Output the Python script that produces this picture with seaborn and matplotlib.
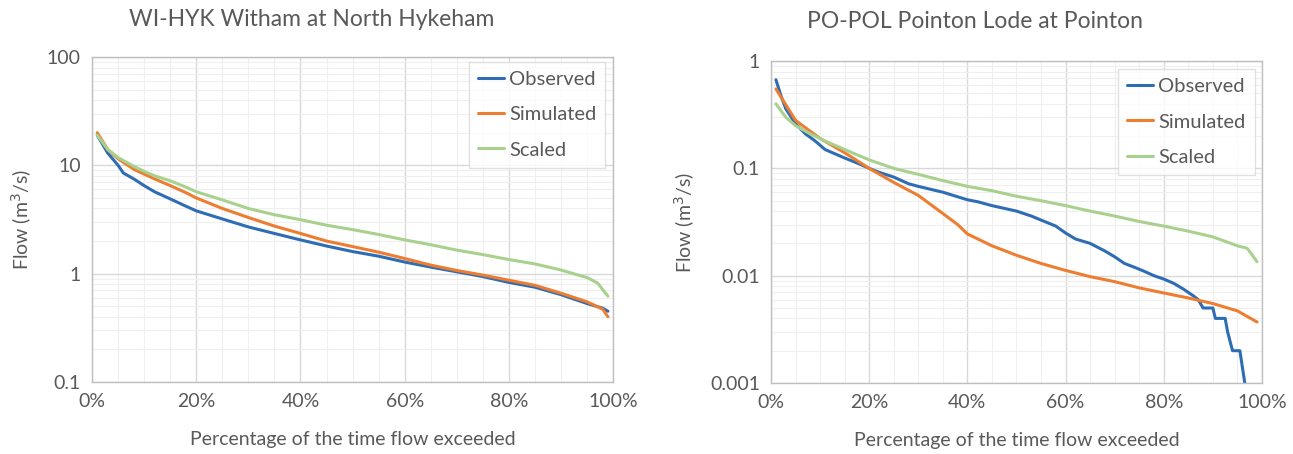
import numpy as np
import pandas as pd
import matplotlib
matplotlib.use("Agg")
import matplotlib.pyplot as plt
import matplotlib.ticker as mticker
import seaborn as sns

# ---- data (x = % of time flow exceeded, y = m3/s) ----
wi_obs_x = [1, 3, 5, 6, 8, 10, 12, 15, 18, 20, 25, 30, 35, 40, 45, 50, 55, 60,
            65, 70, 75, 80, 85, 90, 95, 98, 99]
wi_obs_y = [19, 13, 10, 8.5, 7.5, 6.5, 5.7, 4.9, 4.2, 3.8, 3.2, 2.7, 2.35, 2.05,
            1.8, 1.6, 1.45, 1.28, 1.15, 1.04, 0.94, 0.83, 0.75, 0.64, 0.53, 0.48, 0.45]

wi_sim_x = [1, 3, 5, 8, 10, 12, 15, 18, 20, 25, 30, 35, 40, 45, 50, 55, 60,
            65, 70, 75, 80, 85, 90, 95, 98, 99]
wi_sim_y = [20, 14, 11.5, 9.2, 8.3, 7.5, 6.5, 5.6, 5.0, 4.0, 3.3, 2.75, 2.35,
            2.0, 1.78, 1.58, 1.38, 1.2, 1.07, 0.97, 0.87, 0.78, 0.66, 0.55, 0.47, 0.40]

wi_scl_x = [1, 3, 5, 8, 10, 12, 15, 18, 20, 25, 30, 35, 40, 45, 50, 55, 60,
            65, 70, 75, 80, 85, 90, 95, 97, 99]
wi_scl_y = [19, 14, 11.8, 9.8, 8.8, 8.0, 7.2, 6.3, 5.7, 4.8, 4.0, 3.5, 3.15,
            2.8, 2.55, 2.3, 2.05, 1.85, 1.65, 1.5, 1.35, 1.23, 1.08, 0.92, 0.82, 0.62]

po_obs_x = [1, 2, 3, 5, 7, 9, 11, 15, 18, 20, 22, 25, 28, 30, 35, 40, 42, 45,
            50, 53, 55, 58, 60, 62, 65, 68, 70, 72, 74, 76, 78, 80, 82, 84, 86,
            87, 88, 90, 90.5, 92.5, 93, 94, 95.5, 96.5]
po_obs_y = [0.67, 0.48, 0.36, 0.26, 0.21, 0.18, 0.15, 0.125, 0.11, 0.1, 0.092,
            0.083, 0.072, 0.068, 0.06, 0.051, 0.049, 0.045, 0.04, 0.036, 0.033,
            0.029, 0.025, 0.022, 0.02, 0.017, 0.015, 0.013, 0.012, 0.011, 0.01,
            0.0093, 0.0085, 0.0075, 0.0065, 0.006, 0.005, 0.005, 0.004, 0.004,
            0.003, 0.002, 0.002, 0.001]

po_sim_x = [1, 5, 10, 15, 20, 25, 30, 35, 38, 40, 45, 50, 55, 60, 65, 70, 75,
            80, 85, 90, 95, 99]
po_sim_y = [0.55, 0.28, 0.19, 0.14, 0.1, 0.074, 0.056, 0.038, 0.03, 0.0245,
            0.019, 0.0155, 0.013, 0.0112, 0.0098, 0.0088, 0.0077, 0.0069,
            0.0062, 0.0055, 0.0047, 0.0037]

po_scl_x = [1, 3, 5, 8, 11, 15, 20, 25, 30, 35, 40, 45, 50, 55, 60, 65, 70, 75,
            80, 85, 90, 95, 97, 99]
po_scl_y = [0.4, 0.3, 0.25, 0.21, 0.18, 0.15, 0.12, 0.1, 0.088, 0.077, 0.068,
            0.062, 0.055, 0.05, 0.045, 0.04, 0.036, 0.032, 0.029, 0.026, 0.023,
            0.019, 0.018, 0.0135]

series_names = ["Observed", "Simulated", "Scaled"]
colors = ["#2e6db4", "#ed7d31", "#a9d18e"]
titles = ["WI-HYK Witham at North Hykeham", "PO-POL Pointon Lode at Pointon"]
x_ticks = [0, 20, 40, 60, 80, 100]
y_ticks_wi = [0.1, 1, 10, 100]
y_ticks_po = [0.001, 0.01, 0.1, 1]

sns.set_theme(style="white")
plt.rcParams["font.family"] = ["Lato", "DejaVu Sans"]
text_grey = "#595959"

fig = plt.figure(figsize=(12.93, 4.54), dpi=100)
ax1 = fig.add_axes([0.0712, 0.1586, 0.403, 0.7158])
ax2 = fig.add_axes([0.5963, 0.1564, 0.3797, 0.709])

panels = [
    (ax1, [(wi_obs_x, wi_obs_y), (wi_sim_x, wi_sim_y), (wi_scl_x, wi_scl_y)],
     y_ticks_wi, (0.985, 0.985)),
    (ax2, [(po_obs_x, po_obs_y), (po_sim_x, po_sim_y), (po_scl_x, po_scl_y)],
     y_ticks_po, (0.985, 0.975)),
]

for ax, series, yt, anchor in panels:
    for (xs, ys), name, c in zip(series, series_names, colors):
        sns.lineplot(x=xs, y=ys, ax=ax, color=c, label=name, linewidth=2.2,
                     sort=False)
    ax.set_yscale("log")
    ax.set_ylim(yt[0], yt[-1])
    ax.set_xlim(0, 100)
    ax.set_xticks(x_ticks)
    ax.xaxis.set_minor_locator(mticker.MultipleLocator(5))
    ax.yaxis.set_minor_locator(mticker.LogLocator(base=10, subs=np.arange(2, 10)))
    ax.yaxis.set_minor_formatter(mticker.NullFormatter())
    ax.set_yticks(yt)
    ax.xaxis.set_major_formatter(mticker.FuncFormatter(lambda v, p: f"{v:.0f}%"))
    ax.yaxis.set_major_formatter(mticker.FuncFormatter(lambda v, p: f"{v:g}"))
    ax.grid(which="major", color="#d9d9d9", linewidth=1)
    ax.grid(which="minor", color="#efefef", linewidth=0.8)
    ax.set_axisbelow(True)
    ax.tick_params(which="both", length=0, labelsize=14, labelcolor=text_grey,
                   pad=8)
    for s in ax.spines.values():
        s.set_color("#bfbfbf")
        s.set_linewidth(1)
    ax.set_xlabel("Percentage of the time flow exceeded", fontsize=14,
                  color=text_grey, labelpad=15)
    ax.set_ylabel("Flow (m$^3$/s)", fontsize=14, color=text_grey, labelpad=9)
    leg = ax.legend(loc="upper right", fontsize=14.5, frameon=True,
                    fancybox=False, edgecolor="#d9d9d9", handlelength=1.3,
                    handletextpad=0.25, labelspacing=0.9, borderpad=0.45,
                    borderaxespad=0, bbox_to_anchor=anchor)
    for t in leg.get_texts():
        t.set_color(text_grey)

fig.text(312 / 1293, 1 - 20 / 454, titles[0], ha="center", va="center",
         fontsize=16.5, color=text_grey)
fig.text(975 / 1293, 1 - 22 / 454, titles[1], ha="center", va="center",
         fontsize=16.5, color=text_grey)

fig.savefig("out.png", dpi=100)
